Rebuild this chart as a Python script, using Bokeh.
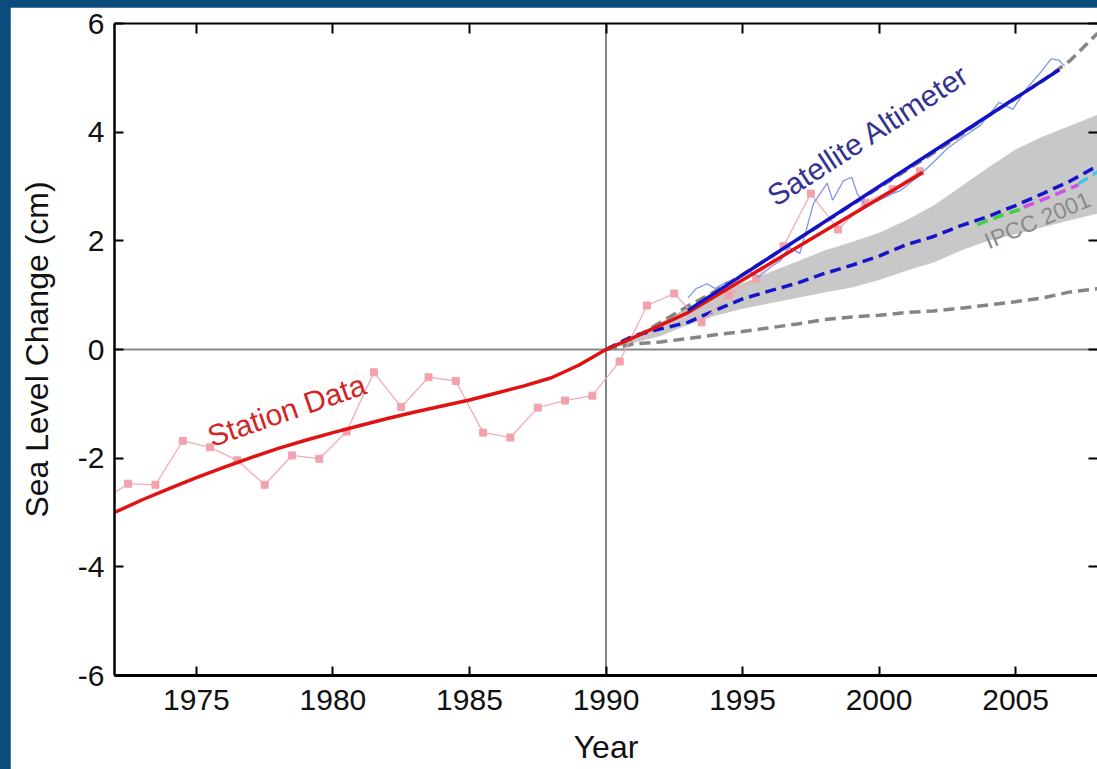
from bokeh.plotting import figure
from bokeh.models import LinearAxis, FixedTicker, Label, Span, Range1d
from bokeh.embed import file_html
from bokeh.resources import INLINE

# ---------------- data ----------------
station_years = [1971.5, 1972.5, 1973.5, 1974.5, 1975.5, 1976.5, 1977.5, 1978.5, 1979.5,
                 1980.5, 1981.5, 1982.5, 1983.5, 1984.5, 1985.5, 1986.5, 1987.5, 1988.5,
                 1989.5, 1990.5, 1991.5, 1992.5, 1993.5, 1994.5, 1995.5, 1996.5, 1997.5,
                 1998.5, 1999.5, 2000.5, 2001.5]
station_values = [-2.80, -2.47, -2.49, -1.68, -1.80, -2.04, -2.49, -1.95, -2.01,
                  -1.51, -0.42, -1.06, -0.51, -0.58, -1.53, -1.62, -1.07, -0.94,
                  -0.85, -0.22, 0.81, 1.03, 0.50, 1.00, 1.30, 1.90, 2.87,
                  2.21, 2.70, 2.95, 3.28]

station_trend_years = [1972, 1973, 1974, 1975, 1976, 1977, 1978, 1979, 1980, 1981, 1982,
                       1983, 1984, 1985, 1986, 1987, 1988, 1989, 1990, 1991, 1992, 1993,
                       1994, 1995, 1996, 1997, 1998, 1999, 2000, 2001, 2001.6]
station_trend_values = [-3.00, -2.77, -2.56, -2.36, -2.17, -1.99, -1.82, -1.67, -1.53, -1.40,
                        -1.27, -1.15, -1.04, -0.93, -0.80, -0.67, -0.52, -0.29, 0.00, 0.22,
                        0.45, 0.68, 0.98, 1.28, 1.58, 1.88, 2.18, 2.48, 2.78, 3.08, 3.26]

sat_years = [1993.0, 1993.3, 1993.7, 1994.0, 1994.4, 1994.8, 1995.2, 1995.6, 1996.0, 1996.4,
             1996.7, 1997.1, 1997.6, 1998.1, 1998.3, 1998.7, 1999.0, 1999.2, 1999.5, 2000.0,
             2000.5, 2000.8, 2001.4, 2002.0, 2002.5, 2003.1, 2003.7, 2004.4, 2004.9, 2005.4,
             2006.0, 2006.3, 2006.6, 2006.8]
sat_values = [0.95, 1.12, 1.21, 1.12, 1.24, 1.30, 1.46, 1.33, 1.51, 1.64,
              1.88, 1.77, 2.69, 3.06, 2.75, 3.11, 3.17, 2.87, 2.65, 2.75,
              2.87, 2.93, 3.17, 3.45, 3.70, 3.92, 4.12, 4.55, 4.42, 4.80,
              5.15, 5.35, 5.32, 5.22]

sat_trend_years = [1993.0, 2006.6]
sat_trend_values = [0.72, 5.15]

proj_years = [1990, 1991, 1992, 1993, 1994, 1995, 1996, 1997, 1998, 1999,
              2000, 2001, 2002, 2003, 2004, 2005, 2006, 2007, 2008]
proj_high = [0.00, 0.20, 0.50, 0.80, 1.07, 1.38, 1.70, 2.02, 2.34, 2.66,
             2.98, 3.30, 3.62, 3.95, 4.30, 4.62, 4.95, 5.32, 5.82]
proj_low = [0.00, 0.10, 0.14, 0.20, 0.27, 0.33, 0.40, 0.47, 0.55, 0.60,
            0.63, 0.68, 0.71, 0.76, 0.82, 0.88, 0.95, 1.06, 1.12]
proj_mid = [0.00, 0.25, 0.38, 0.50, 0.72, 0.93, 1.08, 1.22, 1.40, 1.55,
            1.72, 1.93, 2.08, 2.28, 2.45, 2.65, 2.87, 3.10, 3.38]
band_upper = [0.00, 0.24, 0.50, 0.78, 1.00, 1.22, 1.42, 1.62, 1.82, 1.98,
              2.15, 2.38, 2.65, 3.00, 3.35, 3.68, 3.92, 4.12, 4.32]
band_lower = [0.00, 0.12, 0.25, 0.45, 0.62, 0.75, 0.85, 0.95, 1.05, 1.14,
              1.28, 1.45, 1.60, 1.82, 2.00, 2.12, 2.25, 2.38, 2.50]

model_green_years = [2003.6, 2004.5, 2005.3]
model_green_values = [2.30, 2.47, 2.60]
model_magenta_years = [2005.3, 2006.3, 2007.3]
model_magenta_values = [2.62, 2.82, 3.03]
model_cyan_years = [2007.3, 2008.0]
model_cyan_values = [3.05, 3.27]

x_ticks = [1975, 1980, 1985, 1990, 1995, 2000, 2005]
y_ticks = [-6, -4, -2, 0, 2, 4, 6]
y_tick_labels = ["-6", "-4", "-2", "0", "2", "4", "6"]

# ---------------- figure ----------------
FONT = "Liberation Sans"
p = figure(width=1087, height=762, output_backend="svg", toolbar_location=None,
           x_range=Range1d(1972, 2008), y_range=Range1d(-6, 6),
           min_border_left=104, min_border_top=16, min_border_bottom=94, min_border_right=0,
           x_axis_location="below", y_axis_location="left")
p.margin = (7, 0, 0, 10)
p.background_fill_color = "white"
p.border_fill_color = "white"
p.outline_line_color = None
p.grid.visible = False

for ax in (p.xaxis[0], p.yaxis[0]):
    ax.major_tick_in = 9
    ax.major_tick_out = 0
    ax.minor_tick_line_color = None
    ax.axis_line_color = "black"
    ax.major_tick_line_color = "black"
    ax.major_tick_line_width = 2
    ax.major_label_text_font = FONT
    ax.major_label_text_font_size = "30px"
    ax.major_label_text_color = "#111111"
    ax.axis_label_text_font = FONT
    ax.axis_label_text_font_size = "32px"
    ax.axis_label_text_font_style = "normal"
    ax.axis_label_text_color = "#111111"

p.xaxis[0].ticker = FixedTicker(ticks=x_ticks)
p.yaxis[0].ticker = FixedTicker(ticks=y_ticks)
p.yaxis[0].major_label_overrides = {t: s for t, s in zip(y_ticks, y_tick_labels)}
p.xaxis[0].axis_line_width = 3
p.yaxis[0].axis_line_width = 2.5
p.xaxis[0].axis_label = "Year"
p.yaxis[0].axis_label = "Sea Level Change (cm)"
p.xaxis[0].major_label_standoff = 14
p.yaxis[0].major_label_standoff = 10
p.xaxis[0].axis_label_standoff = 16
p.yaxis[0].axis_label_standoff = 20

top_ax = LinearAxis(ticker=FixedTicker(ticks=x_ticks), major_tick_in=10, major_tick_out=0,
                    minor_tick_line_color=None, major_label_text_font_size="10px",
                    major_label_overrides={t: "" for t in x_ticks},
                    major_label_standoff=0, axis_line_width=2, major_tick_line_width=2)
p.add_layout(top_ax, "above")
right_ax = LinearAxis(ticker=FixedTicker(ticks=y_ticks), major_tick_in=9, major_tick_out=0,
                      minor_tick_line_color=None, major_label_text_font_size="10px",
                      major_label_overrides={t: "" for t in y_ticks},
                      major_label_standoff=0, axis_line_color=None, major_tick_line_width=2)
p.add_layout(right_ax, "right")

p.add_layout(Span(location=0, dimension="width", line_color="#858585", line_width=2, level="underlay"))
p.add_layout(Span(location=1990, dimension="height", line_color="#858585", line_width=2, level="underlay"))

# IPCC band
p.varea(x=proj_years, y1=band_lower, y2=band_upper, fill_color="#c8c8c8", fill_alpha=1.0)

# projections
p.line(proj_years, proj_low, line_color="#858585", line_width=3.5, line_dash="11 6")
p.line(proj_years, proj_high, line_color="#858585", line_width=3.5, line_dash="11 6")
p.line(model_green_years, model_green_values, line_color="#40d040", line_width=3.5, line_dash="11 6")
p.line(model_magenta_years, model_magenta_values, line_color="#d050e0", line_width=3.5, line_dash="11 6")
p.line(model_cyan_years, model_cyan_values, line_color="#40c8e0", line_width=3.5, line_dash="11 6")
p.line(proj_years, proj_mid, line_color="#1414cc", line_width=3.5, line_dash="11 6")

# station data
p.line(station_years, station_values, line_color="#f4abb4", line_width=1.3)
p.scatter(station_years, station_values, marker="square", size=7, fill_color="#f2a2ad",
          line_color="#f2a2ad")

# satellite data
p.line(sat_years, sat_values, line_color="#8494ea", line_width=1.3)

# trends
p.line(station_trend_years, station_trend_values, line_color="#e01212", line_width=3.5)
p.line(sat_trend_years, sat_trend_values, line_color="#1212c8", line_width=3.5)

# labels
p.add_layout(Label(x=1978.3, y=-1.12, text="Station Data", angle=19, angle_units="deg",
                   text_align="center", text_baseline="middle", text_font=FONT,
                   text_font_size="30px", text_color="#d42424"))
p.add_layout(Label(x=1999.6, y=3.95, text="Satellite Altimeter", angle=33, angle_units="deg",
                   text_align="center", text_baseline="middle", text_font=FONT,
                   text_font_size="30px", text_color="#343490"))
p.add_layout(Label(x=2005.8, y=2.38, text="IPCC 2001", angle=23, angle_units="deg",
                   text_align="center", text_baseline="middle", text_font=FONT,
                   text_font_size="23px", text_color="#8a8a8a"))

html = file_html(p, INLINE)
html = html.replace("<head>", "<head><style>html,body{margin:0;padding:0;background:#0a4c7c;overflow:hidden;}</style>", 1)
open("out.html", "w").write(html)
